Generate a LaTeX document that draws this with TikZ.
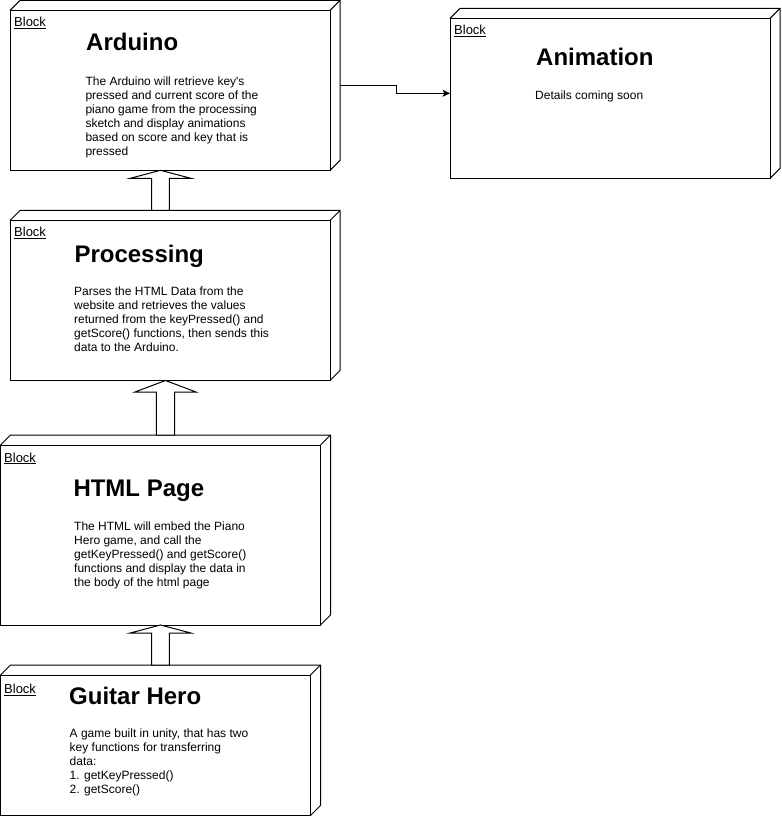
\documentclass[tikz,border=0pt]{standalone}
\usepackage{fontspec}
\setmainfont{Liberation Sans}
\usetikzlibrary{arrows.meta,calc}
\newcommand\fatarrow[5]{\draw[fat] (#1) -- ($(#1)+(#3,#4)$) -- ($(#1)+(#5,#4)$) -- ($(#2)+(#5,0)$) -- ($(#2)+(-#5,0)$) -- ($(#1)+(-#5,#4)$) -- ($(#1)+(-#3,#4)$) -- cycle;}
\begin{document}
\begin{tikzpicture}[x=1pt,y=-1pt,
  box/.style={draw,line width=1pt,inner sep=0pt,outer sep=0pt,anchor=north west,fill=white,minimum width=320pt},
  depth/.style={line width=1pt,line join=miter},
  blk/.style={font=\fontsize{13}{15}\selectfont,inner sep=0pt,anchor=base west},
  ttl/.style={font=\fontsize{24}{28}\selectfont\bfseries,inner sep=0pt,anchor=base west},
  body/.style={font=\fontsize{12}{14}\selectfont,inner sep=0pt,anchor=base west},
  fat/.style={draw,line width=1pt,fill=white,line join=miter},
  conn/.style={draw,line width=1pt,-{Stealth[length=7.5pt,width=7pt,inset=2pt]}}]
\useasboundingbox[fill=white] (0,0) rectangle (781,818);

% boxes (front faces)
\node[box,minimum height=160pt] (ard) at (10,10.3) {};
\node[box,minimum height=160pt] (ani) at (450,18.3) {};
\node[box,minimum height=160pt] (proc) at (10,220.5) {};
\node[box,minimum height=180pt] (html) at (0.5,445) {};
\node[box,minimum width=310pt,minimum height=140.5pt] (gh) at (0.5,675) {};

% 3D depth
\foreach \n in {ard,ani,proc,html,gh}
  \draw[depth] (\n.north west) -- ++(10,-10) -- ($(\n.north east)+(10,-10)$) -- ($(\n.south east)+(10,-10)$) -- (\n.south east)
               (\n.north east) -- ++(10,-10);

% labels "Block"
\node[blk] (ardb) at (14,26.7) {Block};
\node[blk] (anib) at (454,35) {Block};
\node[blk] (procb) at (14,236.7) {Block};
\node[blk] (htmlb) at (4,462) {Block};
\node[blk] (ghb) at (4,693.3) {Block};
\foreach \n in {ardb,anib,procb,htmlb,ghb}
  \draw[line width=0.8pt] ([yshift=-1.8pt]\n.base west) -- ([yshift=-1.8pt]\n.base east);

% titles
\node[ttl] (ardt) at (86,50.7) {Arduino};
\node[ttl] (anit) at (536,65.7) {Animation};
\node[ttl] (proct) at (74.3,262.7) {Processing};
\node[ttl] (htmlt) at (73.3,496) {HTML Page};
\node[ttl] (ght) at (69,704) {Guitar Hero};

% bodies
\node[body] (ardd) at (85.3,85.7) {\parbox[t]{250pt}{\raggedright The Arduino will retrieve key\textquotesingle s\\pressed and current score of the\\piano game from the processing\\sketch and display animations\\based on score and key that is\\pressed}};
\node[body] (anid) at (535,100) {\parbox[t]{220pt}{\raggedright Details coming soon}};
\node[body] (procd) at (74,295.7) {\parbox[t]{250pt}{\raggedright Parses the HTML Data from the\\website and retrieves the values\\returned from the keyPressed() and\\getScore() functions, then sends this\\data to the Arduino.}};
\node[body] (htmld) at (74,530) {\parbox[t]{240pt}{\raggedright The HTML will embed the Piano\\Hero game, and call the\\getKeyPressed() and getScore()\\functions and display the data in\\the body of the html page}};
\node[body] (ghd) at (69.5,737.7) {\parbox[t]{235pt}{\raggedright A game built in unity, that has two\\key functions for transferring\\data:\\1. getKeyPressed()\\2. getScore()}};

% block arrows
\coordinate (t1) at ($(ard.south west)+(150.5,0)$);
\coordinate (b1) at ($(proc.north west)+(150.5,-10)$);
\coordinate (t2) at ($(proc.south west)+(155.5,0)$);
\coordinate (b2) at ($(html.north west)+(165,-10)$);
\coordinate (t3) at ($(html.south west)+(160,0)$);
\coordinate (b3) at ($(gh.north west)+(160,-10)$);
\fatarrow{t1}{b1}{30.3}{8}{8.8}
\fatarrow{t2}{b2}{30.5}{11.5}{9.2}
\fatarrow{t3}{b3}{30.3}{8}{8.8}

% elbow connector
\coordinate (s) at ($(ard.east)+(10,-5)$);
\coordinate (e) at ($(ani.west)+(0,-5)$);
\draw[conn] (s) -- ++(56,0) |- (e);
\end{tikzpicture}
\end{document}
